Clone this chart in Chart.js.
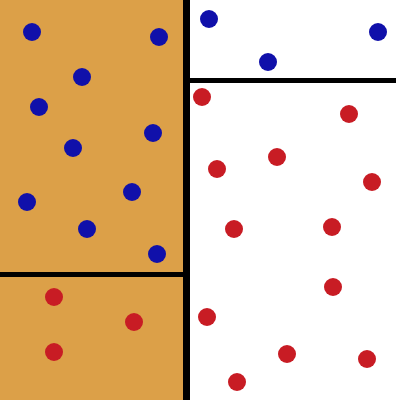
<!DOCTYPE html>
<html lang="en">
<head>
  <meta charset="UTF-8">
  <title>Scatter Regions</title>
  <script src="https://cdn.jsdelivr.net/npm/chart.js"></script>
  <style>
    body {
      margin: 0;
      padding: 0;
      background-color: #ffffff;
    }
    canvas {
      display: block;
    }
  </style>
</head>
<body>
  <canvas id="regionChart" width="400" height="400"></canvas>

  <script>
    // point data (x right, y down, 0..400)
    const blueX = [32, 159, 82, 39, 153, 73, 27, 132, 87, 157, 209, 268, 378];
    const blueY = [32, 37, 77, 107, 133, 148, 202, 192, 229, 254, 19, 62, 32];
    const redX = [54, 134, 54, 202, 349, 217, 277, 372, 234, 332, 333, 207, 287, 367, 237];
    const redY = [297, 322, 352, 97, 114, 169, 157, 182, 229, 227, 287, 317, 354, 359, 382];

    // region boundaries in the same units
    const splitX = [183, 190];
    const leftSplitY = [272, 277];
    const rightSplitY = [78, 83];
    const rightLineEnd = 396;

    function toPoints(xs, ys) {
      return xs.map((x, i) => ({ x: x, y: ys[i] }));
    }

    const regionPlugin = {
      id: "regions",
      beforeDatasetsDraw(chart) {
        const ctx = chart.ctx;
        const sx = chart.scales.x;
        const sy = chart.scales.y;
        const rect = (x0, x1, y0, y1, color) => {
          const px0 = sx.getPixelForValue(x0);
          const px1 = sx.getPixelForValue(x1);
          const py0 = sy.getPixelForValue(y0);
          const py1 = sy.getPixelForValue(y1);
          ctx.fillStyle = color;
          ctx.fillRect(px0, Math.min(py0, py1), px1 - px0, Math.abs(py1 - py0));
        };
        ctx.save();
        rect(0, 400, 0, 400, "#ffffff");
        rect(0, splitX[0], 0, 400, "#dca048");
        rect(splitX[0], splitX[1], 0, 400, "#000000");
        rect(0, splitX[0], leftSplitY[0], leftSplitY[1], "#000000");
        rect(splitX[1], rightLineEnd, rightSplitY[0], rightSplitY[1], "#000000");
        ctx.restore();
      }
    };

    const ctx = document.getElementById("regionChart").getContext("2d");
    new Chart(ctx, {
      type: "scatter",
      data: {
        datasets: [
          {
            label: "Blue",
            data: toPoints(blueX, blueY),
            backgroundColor: "#1010aa",
            borderColor: "#1010aa",
            borderWidth: 0,
            pointRadius: 9,
            pointHoverRadius: 9
          },
          {
            label: "Red",
            data: toPoints(redX, redY),
            backgroundColor: "#c81c24",
            borderColor: "#c81c24",
            borderWidth: 0,
            pointRadius: 9,
            pointHoverRadius: 9
          }
        ]
      },
      options: {
        responsive: false,
        maintainAspectRatio: false,
        animation: false,
        clip: false,
        layout: { padding: 0, autoPadding: false },
        plugins: {
          legend: { display: false },
          tooltip: { enabled: false }
        },
        scales: {
          x: { type: "linear", min: 0, max: 400, display: false },
          y: { type: "linear", min: 0, max: 400, reverse: true, display: false }
        }
      },
      plugins: [regionPlugin]
    });
  </script>
</body>
</html>
